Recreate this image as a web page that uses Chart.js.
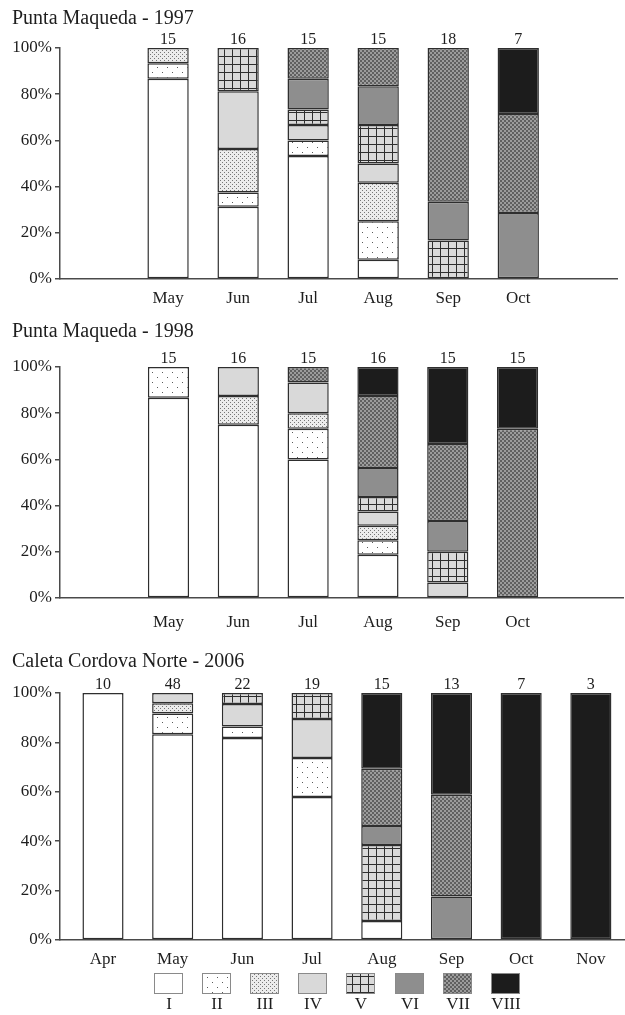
<!DOCTYPE html>
<html>
<head>
<meta charset="utf-8">
<script src="https://cdn.jsdelivr.net/npm/chart.js@4.4.0/dist/chart.umd.min.js"></script>
<style>
  body { margin: 0; background: #fff; }
  #page { position: relative; width: 625px; height: 1015px; overflow: hidden; }
  canvas { position: absolute; left: 0; }
  .title { position: absolute; left: 12px; font: 20px/20px 'Liberation Serif', 'Times New Roman', serif; color: #1e1e1e; white-space: nowrap; }
</style>
</head>
<body>
<div id="page">
  <canvas id="c1997" width="625" height="318" style="top:0"></canvas>
  <canvas id="c1998" width="625" height="318" style="top:320px"></canvas>
  <canvas id="c2006" width="625" height="375" style="top:640px"></canvas>
  <div class="title" style="top:7px">Punta Maqueda - 1997</div>
  <div class="title" style="top:320px">Punta Maqueda - 1998</div>
  <div class="title" style="top:650px">Caleta Cordova Norte - 2006</div>
</div>
<script>
const months = ['Apr', 'May', 'Jun', 'Jul', 'Aug', 'Sep', 'Oct', 'Nov'];
const stages = ['I', 'II', 'III', 'IV', 'V', 'VI', 'VII', 'VIII'];

// sample size printed over each bar (null = not sampled)
const n1997 = [null, 15, 16, 15, 15, 18, 7, null];
const n1998 = [null, 15, 16, 15, 16, 15, 15, null];
const n2006 = [10, 48, 22, 19, 15, 13, 7, 3];

// % of each maturity stage per month, one row per stage (I..VIII), columns Apr..Nov
const pct1997 = [
  [0, 86.7, 31.25, 53.3, 8.3, 0, 0, 0],
  [0, 6.7, 6.25, 6.7, 16.7, 0, 0, 0],
  [0, 6.6, 18.75, 0, 16.7, 0, 0, 0],
  [0, 0, 25, 6.7, 8.3, 0, 0, 0],
  [0, 0, 18.75, 6.7, 16.7, 16.7, 0, 0],
  [0, 0, 0, 13.3, 16.7, 16.7, 28.6, 0],
  [0, 0, 0, 13.3, 16.6, 66.6, 42.8, 0],
  [0, 0, 0, 0, 0, 0, 28.6, 0]
];
const pct1998 = [
  [0, 86.7, 75, 60, 18.75, 0, 0, 0],
  [0, 13.3, 0, 13.3, 6.25, 0, 0, 0],
  [0, 0, 12.5, 6.7, 6.25, 0, 0, 0],
  [0, 0, 12.5, 13.3, 6.25, 6.7, 0, 0],
  [0, 0, 0, 0, 6.25, 13.3, 0, 0],
  [0, 0, 0, 0, 12.5, 13.3, 0, 0],
  [0, 0, 0, 6.7, 31.25, 33.4, 73.3, 0],
  [0, 0, 0, 0, 12.5, 33.3, 26.7, 0]
];
const pct2006 = [
  [100, 83.3, 81.8, 57.9, 7.7, 0, 0, 0],
  [0, 8.4, 4.6, 15.8, 0, 0, 0, 0],
  [0, 4.2, 0, 0, 0, 0, 0, 0],
  [0, 4.1, 9.1, 15.8, 0, 0, 0, 0],
  [0, 0, 4.5, 10.5, 30.8, 0, 0, 0],
  [0, 0, 0, 0, 7.7, 17.6, 0, 0],
  [0, 0, 0, 0, 23.1, 41.2, 0, 0],
  [0, 0, 0, 0, 30.7, 41.2, 100, 100]
];

const SERIF = "'Liberation Serif', 'Times New Roman', serif";
const INK = '#1e1e1e';
const EDGE = '#2e2e2e';
Chart.defaults.font.family = SERIF;
Chart.defaults.color = INK;

function tile(ctx, w, h, draw) {
  const c = document.createElement('canvas');
  c.width = w; c.height = h;
  draw(c.getContext('2d'));
  return ctx.createPattern(c, 'repeat');
}

// fill for each stage: plain greys, dot screens and a grid
function makeFills(ctx) {
  return [
    '#ffffff',
    tile(ctx, 10, 10, g => {
      g.fillStyle = '#fff'; g.fillRect(0, 0, 10, 10);
      g.fillStyle = '#5a5a5a';
      g.fillRect(2, 2, 1, 1); g.fillRect(7, 7, 1, 1);
    }),
    tile(ctx, 4, 4, g => {
      g.fillStyle = '#ececec'; g.fillRect(0, 0, 4, 4);
      g.fillStyle = '#767676';
      g.fillRect(0, 0, 1, 1); g.fillRect(2, 2, 1, 1);
    }),
    '#d9d9d9',
    tile(ctx, 8, 8, g => {
      g.fillStyle = '#dadada'; g.fillRect(0, 0, 8, 8);
      g.fillStyle = '#2e2e2e';
      g.fillRect(0, 0, 8, 1); g.fillRect(0, 0, 1, 8);
    }),
    '#8e8e8e',
    tile(ctx, 4, 4, g => {
      g.fillStyle = '#9c9c9c'; g.fillRect(0, 0, 4, 4);
      g.fillStyle = '#606060';
      g.fillRect(0, 0, 2, 2); g.fillRect(2, 2, 2, 2);
    }),
    '#1c1c1c'
  ];
}

// n printed above each bar
const countLabels = {
  id: 'countLabels',
  afterDatasetsDraw(chart, args, opts) {
    const { ctx, chartArea, scales: { x } } = chart;
    ctx.save();
    ctx.font = '16px ' + SERIF;
    ctx.fillStyle = INK;
    ctx.textAlign = 'center';
    ctx.textBaseline = 'alphabetic';
    opts.counts.forEach((n, i) => {
      if (n == null) return;
      ctx.fillText(String(n), x.getPixelForValue(i), chartArea.top - 4);
    });
    ctx.restore();
  }
};

// stage key: swatch with the roman numeral underneath
const stageKey = {
  id: 'stageKey',
  afterDraw(chart, args, opts) {
    const { ctx } = chart;
    ctx.save();
    chart.data.datasets.forEach((ds, i) => {
      const bx = Math.round(opts.left + i * opts.step);
      ctx.fillStyle = ds.backgroundColor;
      ctx.fillRect(bx, opts.top, 29, 21);
      ctx.strokeStyle = '#8a8a8a';
      ctx.lineWidth = 1;
      ctx.strokeRect(bx + 0.5, opts.top + 0.5, 28, 20);
      ctx.fillStyle = INK;
      ctx.font = '17px ' + SERIF;
      ctx.textAlign = 'center';
      ctx.textBaseline = 'middle';
      ctx.fillText(ds.label, bx + 15, opts.top + 32);
    });
    ctx.restore();
  }
};

function stageChart(id, pct, counts, o) {
  const ctx = document.getElementById(id).getContext('2d');
  const fills = makeFills(ctx);
  return new Chart(ctx, {
    type: 'bar',
    data: {
      labels: months.map((m, i) => i),
      datasets: stages.map((s, k) => ({
        label: s,
        data: pct[k].map(v => v || null),
        backgroundColor: fills[k],
        borderColor: EDGE,
        borderWidth: 1.5,
        borderSkipped: false,
        categoryPercentage: 1,
        barPercentage: 0.59
      }))
    },
    options: {
      responsive: false,
      animation: false,
      layout: { padding: { top: o.top, right: o.right, left: 0, bottom: 0 } },
      plugins: {
        legend: { display: false },
        tooltip: { enabled: false },
        countLabels: { counts },
        stageKey: o.key || false
      },
      scales: {
        x: {
          type: 'linear',
          stacked: true,
          offset: false,
          min: o.xMin,
          max: o.xMax,
          afterBuildTicks: s => {
            s.ticks = counts.map((n, i) => ({ value: i })).filter(t => counts[t.value] != null);
          },
          ticks: {
            autoSkip: false,
            maxRotation: 0,
            padding: o.labelPad,
            font: { size: 17 },
            callback: v => months[v]
          },
          grid: { display: false },
          border: { color: '#4a4a4a', width: 1.5 },
          afterFit: s => { s.height = o.axisH; }
        },
        y: {
          stacked: true,
          min: 0,
          max: 100,
          ticks: { stepSize: 20, padding: 3, font: { size: 17 }, callback: v => v + '%' },
          grid: { drawOnChartArea: false, tickLength: 5, color: '#4a4a4a', lineWidth: 1.5 },
          border: { color: '#4a4a4a', width: 1.5 },
          afterFit: s => { s.width = 60; }
        }
      }
    },
    plugins: [countLabels, stageKey]
  });
}

stageChart('c1997', pct1997, n1997, { top: 48, right: 8, axisH: 39, labelPad: 1, xMin: -0.543, xMax: 7.41 });
stageChart('c1998', pct1998, n1998, { top: 47, right: 2, axisH: 40, labelPad: 6, xMin: -0.554, xMax: 7.51 });
stageChart('c2006', pct2006, n2006, {
  top: 53, right: 0, axisH: 75, labelPad: 1, xMin: -0.617, xMax: 7.49,
  key: { left: 154, step: 48.1, top: 333 }
});
</script>
</body>
</html>
